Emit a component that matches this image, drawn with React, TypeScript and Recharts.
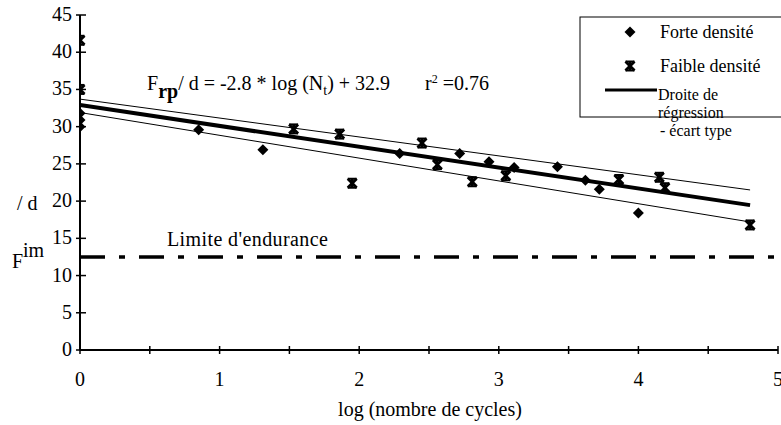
import React from 'react';
import { ComposedChart, Scatter, Line, XAxis, YAxis, ReferenceLine } from 'recharts';

// log(nombre de cycles) vs F/d
const forteDensite = [
  { x: 0, y: 31.8 },
  { x: 0, y: 30.9 },
  { x: 0, y: 30.0 },
  { x: 0.85, y: 29.6 },
  { x: 1.31, y: 26.9 },
  { x: 2.29, y: 26.4 },
  { x: 2.72, y: 26.4 },
  { x: 2.93, y: 25.3 },
  { x: 3.11, y: 24.5 },
  { x: 3.42, y: 24.6 },
  { x: 3.62, y: 22.8 },
  { x: 3.72, y: 21.6 },
  { x: 4.0, y: 18.4 },
];

const faibleDensite = [
  { x: 0, y: 41.6 },
  { x: 0, y: 35.0 },
  { x: 1.53, y: 29.7 },
  { x: 1.86, y: 29.0 },
  { x: 1.95, y: 22.4 },
  { x: 2.45, y: 27.8 },
  { x: 2.56, y: 24.9 },
  { x: 2.81, y: 22.6 },
  { x: 3.05, y: 23.4 },
  { x: 3.86, y: 22.9 },
  { x: 4.15, y: 23.2 },
  { x: 4.19, y: 21.8 },
  { x: 4.8, y: 16.8 },
];

const regression = [
  { x: 0, y: 32.9 },
  { x: 4.8, y: 19.46 },
];
const ecartHaut = [
  { x: 0, y: 33.7 },
  { x: 4.8, y: 21.5 },
];
const ecartBas = [
  { x: 0, y: 31.9 },
  { x: 4.8, y: 17.2 },
];

const limiteEndurance = 12.5;

const xTicks = [0, 0.5, 1, 1.5, 2, 2.5, 3, 3.5, 4, 4.5, 5];
const yTicks = [0, 5, 10, 15, 20, 25, 30, 35, 40, 45];

const FONT = '"Liberation Serif", "Times New Roman", serif';

const XTick = (props: any) => {
  const { x, y, payload } = props;
  const v = payload.value;
  return (
    <g>
      <line x1={x} x2={x} y1={y - 4} y2={y + 4} stroke="#000" strokeWidth={1.5} />
      {Number.isInteger(v) && (
        <text x={x} y={y + 36} textAnchor="middle" fontSize={20} fontFamily={FONT} fill="#000">
          {v}
        </text>
      )}
    </g>
  );
};

const YTick = (props: any) => {
  const { x, y, payload } = props;
  return (
    <g>
      <line x1={x + 4} x2={x + 14} y1={y} y2={y} stroke="#000" strokeWidth={1.5} />
      <text x={x} y={y + 6} textAnchor="end" fontSize={20} fontFamily={FONT} fill="#000">
        {payload.value}
      </text>
    </g>
  );
};

const Diamond = (props: any) => {
  const { cx, cy } = props;
  const s = 5.5;
  return <polygon points={`${cx},${cy - s} ${cx + s},${cy} ${cx},${cy + s} ${cx - s},${cy}`} fill="#000" />;
};

// marqueur étoile (X + barre verticale)
const Star = (props: any) => {
  const { cx, cy } = props;
  const s = 4.5;
  return (
    <g stroke="#000" strokeWidth={2.8}>
      <line x1={cx - s} y1={cy - s} x2={cx + s} y2={cy + s} />
      <line x1={cx + s} y1={cy - s} x2={cx - s} y2={cy + s} />
      <line x1={cx} y1={cy - s} x2={cx} y2={cy + s} />
      <line x1={cx - s} y1={cy - s} x2={cx + s} y2={cy - s} strokeWidth={2} />
      <line x1={cx - s} y1={cy + s} x2={cx + s} y2={cy + s} strokeWidth={2} />
    </g>
  );
};

export default function App() {
  return (
    <div style={{ position: 'absolute', left: 0, top: 0, width: 781, height: 425, background: '#fff', overflow: 'hidden' }}>
      <ComposedChart width={781} height={425} margin={{ top: 15, right: 3, left: 0, bottom: 0 }}>
        <XAxis
          type="number"
          dataKey="x"
          domain={[0, 5]}
          ticks={xTicks}
          interval={0}
          height={75}
          tickSize={0}
          tickMargin={0}
          tickLine={false}
          axisLine={{ stroke: '#000', strokeWidth: 2 }}
          tick={<XTick />}
          allowDataOverflow
        />
        <YAxis
          type="number"
          dataKey="y"
          domain={[0, 45]}
          ticks={yTicks}
          interval={0}
          width={80}
          tickSize={0}
          tickMargin={8}
          tickLine={false}
          axisLine={{ stroke: '#000', strokeWidth: 2 }}
          tick={<YTick />}
          allowDataOverflow
        />
        <ReferenceLine y={limiteEndurance} stroke="#000" strokeWidth={3.5} strokeDasharray="25 14 6 14" />
        <Line data={ecartHaut} dataKey="y" stroke="#000" strokeWidth={1} dot={false} isAnimationActive={false} />
        <Line data={ecartBas} dataKey="y" stroke="#000" strokeWidth={1} dot={false} isAnimationActive={false} />
        <Line data={regression} dataKey="y" stroke="#000" strokeWidth={4} dot={false} isAnimationActive={false} />
        <Scatter data={forteDensite} shape={<Diamond />} isAnimationActive={false} />
        <Scatter data={faibleDensite} shape={<Star />} isAnimationActive={false} />
      </ComposedChart>
      <svg width={781} height={425} style={{ position: 'absolute', left: 0, top: 0, pointerEvents: 'none' }} fontFamily={FONT} fill="#000">
        <text x={147} y={90} fontSize={20}>
          F<tspan fontWeight="bold" dy={8}>rp</tspan>
          <tspan dy={-8}>/ d = -2.8 * log (N</tspan>
          <tspan dy={5} fontSize={14}>t</tspan>
          <tspan dy={-5}>) + 32.9</tspan>
        </text>
        <text x={425} y={90} fontSize={20}>
          r<tspan dy={-7} fontSize={12}>2</tspan>
          <tspan dy={7}> =0.76</tspan>
        </text>
        <text x={167} y={246} fontSize={20} letterSpacing={0.4}>Limite d'endurance</text>
        <text x={17} y={210} fontSize={20}>/ d</text>
        <text x={12} y={268} fontSize={20}>F</text>
        <text x={23} y={257} fontSize={20}>im</text>
        <text x={430} y={416} fontSize={20} textAnchor="middle">log (nombre de cycles)</text>
        <rect x={580} y={17} width={210} height={100} fill="none" stroke="#000" strokeWidth={1} />
        <Diamond cx={630} cy={32} />
        <text x={660} y={38} fontSize={18}>Forte densité</text>
        <Star cx={630} cy={66} />
        <text x={660} y={72} fontSize={18}>Faible densité</text>
        <line x1={605} x2={657} y1={90} y2={90} stroke="#000" strokeWidth={3} />
        <text x={658} y={100} fontSize={16}>Droite de</text>
        <text x={658} y={118} fontSize={16}>régression</text>
        <text x={660} y={136} fontSize={16}>- écart type</text>
      </svg>
    </div>
  );
}
